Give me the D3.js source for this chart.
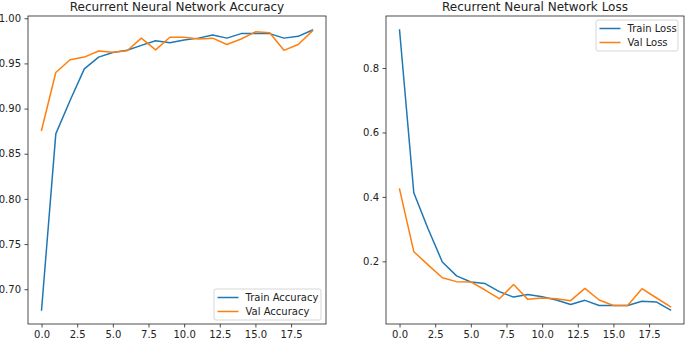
<!DOCTYPE html>
<html>
<head>
<meta charset="utf-8">
<script src="https://cdn.jsdelivr.net/npm/d3@7"></script>
<style>
  body { margin: 0; background: #fff; }
  text { font-family: "DejaVu Sans", sans-serif; fill: #222; }
</style>
</head>
<body>
<div id="chart"></div>
<script>
// 1: DATA
const epochs = d3.range(0, 20);
const trainAcc = [0.677, 0.872, 0.909, 0.944, 0.957, 0.962, 0.9645, 0.970, 0.975, 0.973,
                  0.976, 0.978, 0.9815, 0.978, 0.983, 0.983, 0.983, 0.978, 0.980, 0.987];
const valAcc = [0.876, 0.940, 0.954, 0.957, 0.9637, 0.9625, 0.964, 0.978, 0.965, 0.979,
                0.979, 0.977, 0.978, 0.971, 0.977, 0.985, 0.984, 0.9645, 0.971, 0.986];
const trainLoss = [0.918, 0.413, 0.301, 0.198, 0.155, 0.136, 0.131, 0.106, 0.089, 0.097,
                   0.090, 0.080, 0.066, 0.079, 0.063, 0.063, 0.063, 0.076, 0.074, 0.049];
const valLoss = [0.424, 0.230, 0.189, 0.149, 0.137, 0.136, 0.111, 0.084, 0.128, 0.082,
                 0.086, 0.084, 0.078, 0.116, 0.080, 0.063, 0.063, 0.115, 0.087, 0.059];
const xTicks = [0, 2.5, 5, 7.5, 10, 12.5, 15, 17.5];
const accTicks = [0.70, 0.75, 0.80, 0.85, 0.90, 0.95, 1.00];
const lossTicks = [0.2, 0.4, 0.6, 0.8];

const colors = { train: "#1f77b4", val: "#ff7f0e" };

const svg = d3.select("#chart")
    .append("svg")
    .attr("width", 685)
    .attr("height", 340);

// matplotlib style 5% margins
function padded(values) {
    const [lo, hi] = d3.extent(values);
    const p = (hi - lo) * 0.05;
    return [lo - p, hi + p];
}

function drawPanel(opts) {
    const { left, right, top, bottom } = opts;
    const g = svg.append("g");

    const x = d3.scaleLinear().domain(padded(epochs)).range([left, right]);
    const y = d3.scaleLinear().domain(padded(opts.series.flatMap(s => s.values))).range([bottom, top]);

    const line = d3.line()
        .x((d, i) => x(epochs[i]))
        .y(d => y(d));

    // lines
    opts.series.forEach(s => {
        g.append("path")
            .attr("d", line(s.values))
            .attr("fill", "none")
            .attr("stroke", s.color)
            .attr("stroke-width", 1.5)
            .attr("stroke-linejoin", "round")
            .attr("stroke-linecap", "square");
    });

    // axes
    const xAxis = g.append("g")
        .attr("transform", `translate(0,${bottom})`)
        .call(d3.axisBottom(x).tickValues(xTicks).tickFormat(d3.format(".1f")).tickSize(3.5).tickPadding(3.5));
    const yAxis = g.append("g")
        .attr("transform", `translate(${left},0)`)
        .call(d3.axisLeft(y).tickValues(opts.yTicks).tickFormat(d3.format(opts.yFormat)).tickSize(3.5).tickPadding(3.5));
    [xAxis, yAxis].forEach(a => {
        a.select(".domain").remove();
        a.selectAll("line").attr("stroke", "#222").attr("stroke-width", 0.8);
        a.selectAll("text").style("font-size", "10px").attr("fill", "#222");
    });

    // frame
    g.append("rect")
        .attr("x", left)
        .attr("y", top)
        .attr("width", right - left)
        .attr("height", bottom - top)
        .attr("fill", "none")
        .attr("stroke", "#222")
        .attr("stroke-width", 0.8);

    // title
    g.append("text")
        .attr("x", (left + right) / 2)
        .attr("y", top - 5)
        .attr("text-anchor", "middle")
        .style("font-size", "12px")
        .text(opts.title);

    // legend
    const lg = opts.legend;
    const leg = g.append("g");
    leg.append("rect")
        .attr("x", lg.x)
        .attr("y", lg.y)
        .attr("width", lg.w)
        .attr("height", lg.h)
        .attr("rx", 2)
        .attr("fill", "rgba(255,255,255,0.8)")
        .attr("stroke", "#ccc")
        .attr("stroke-width", 0.8);
    opts.series.forEach((s, i) => {
        const cy = lg.y + 8.5 + i * 14;
        leg.append("line")
            .attr("x1", lg.x + 3.5)
            .attr("x2", lg.x + 24.5)
            .attr("y1", cy)
            .attr("y2", cy)
            .attr("stroke", s.color)
            .attr("stroke-width", 1.5);
        leg.append("text")
            .attr("x", lg.x + 31.5)
            .attr("y", cy)
            .attr("dy", "0.35em")
            .style("font-size", "10px")
            .text(s.name);
    });
}

drawPanel({
    left: 28, right: 326, top: 16, bottom: 324,
    title: "Recurrent Neural Network Accuracy",
    yTicks: accTicks, yFormat: ".2f",
    series: [
        { name: "Train Accuracy", values: trainAcc, color: colors.train },
        { name: "Val Accuracy", values: valAcc, color: colors.val }
    ],
    legend: { x: 214, y: 289, w: 107, h: 31 }
});

drawPanel({
    left: 386, right: 684, top: 16, bottom: 324,
    title: "Recurrent Neural Network Loss",
    yTicks: lossTicks, yFormat: ".1f",
    series: [
        { name: "Train Loss", values: trainLoss, color: colors.train },
        { name: "Val Loss", values: valLoss, color: colors.val }
    ],
    legend: { x: 596, y: 20, w: 82, h: 31 }
});
</script>
</body>
</html>
